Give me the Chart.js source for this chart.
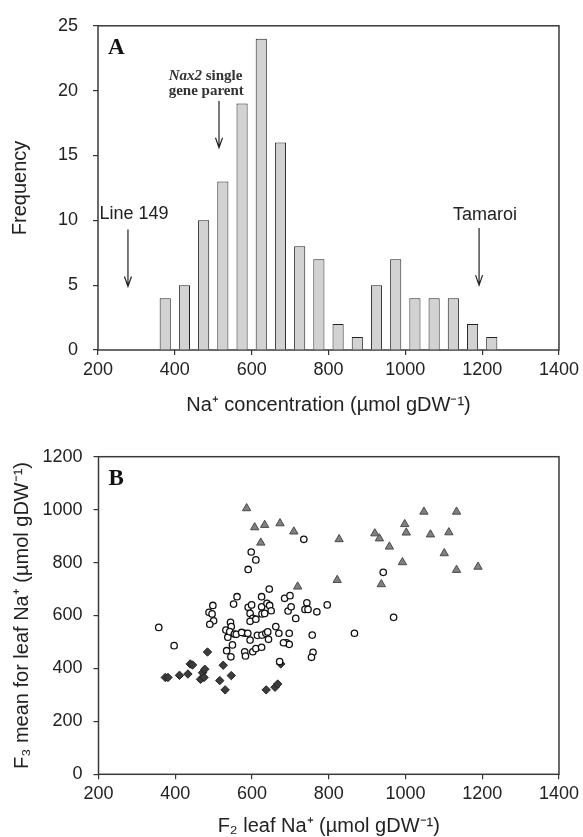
<!DOCTYPE html>
<html>
<head>
<meta charset="utf-8">
<script src="https://cdn.jsdelivr.net/npm/chart.js@4.4.1/dist/chart.umd.min.js"></script>
<style>
html, body { margin: 0; padding: 0; background: #fff; overflow: hidden; }
#wrapA { position: absolute; left: 0; top: 0; width: 583px; height: 420px; }
#wrapB { position: absolute; left: 0; top: 410px; width: 583px; height: 430px; }
</style>
</head>
<body>
<div id="wrapA"><canvas id="histChart" width="583" height="420"></canvas></div>
<div id="wrapB"><canvas id="scatterChart" width="583" height="430"></canvas></div>
<script>
// Panel A - histogram of leaf Na+ (bin centres, 50 wide)
const binCentres = [375, 425, 475, 525, 575, 625, 675, 725, 775, 825, 875, 925, 975, 1025, 1075, 1125, 1175, 1225];
const binCounts  = [4, 5, 10, 13, 19, 24, 16, 8, 7, 2, 1, 5, 7, 4, 4, 4, 2, 1];
const freqTicks  = [0, 5, 10, 15, 20, 25];
const naTicks    = [200, 400, 600, 800, 1000, 1200, 1400];

// Panel B - F2 leaf Na+ vs F3 mean
const lowX  = [374, 381, 411, 433, 439, 445, 471, 466, 477, 475, 484, 516, 525, 546, 530, 637, 660, 667, 675];
const lowY  = [366, 366, 374, 379, 417, 413, 384, 359, 397, 366, 462, 354, 412, 373, 319, 319, 329, 341, 417];
const midX  = [357, 397, 498, 488, 496, 500, 490, 552, 561, 532, 544, 546, 537, 542, 554, 549, 534, 545, 559, 581,
               590, 598, 610, 590, 599, 595, 602, 595, 573, 589, 595, 581, 583, 602, 610, 610, 625, 625, 645, 626,
               633, 639, 646, 650, 614, 626, 636, 625, 641, 643, 662, 670, 672, 685, 699, 694, 702, 714, 697, 690,
               697, 682, 735, 743, 738, 746, 769, 757, 759, 755, 796, 867, 942, 969];
const midY  = [555, 486, 638, 612, 606, 580, 567, 643, 671, 545, 574, 558, 518, 539, 530, 489, 467, 444, 529, 533,
               774, 840, 810, 631, 640, 608, 589, 578, 536, 533, 507, 463, 447, 463, 475, 586, 671, 633, 700, 606,
               608, 646, 638, 618, 525, 526, 533, 480, 538, 510, 558, 533, 426, 665, 675, 617, 633, 589, 533, 497,
               491, 497, 888, 648, 623, 623, 614, 526, 461, 442, 640, 533, 763, 593];
const highX = [586, 607, 633, 673, 623, 709, 719, 822, 827, 920, 932, 937, 958, 992, 998, 1002, 1048, 1065, 1101, 1113, 1133, 1133, 1189];
const highY = [1005, 933, 942, 948, 875, 917, 709, 734, 888, 910, 891, 718, 860, 801, 945, 913, 992, 906, 835, 914, 992, 772, 784];
const f3Ticks = [0, 200, 400, 600, 800, 1000, 1200];

// Annotations for panel A (data units: x = Na+, y = frequency)
const arrowsA = [
    { label: 'Line 149', x: 278, textY: 10.5, from: 9.3, to: 4.9 },
    { label: 'Tamaroi', x: 1192, textY: 10.4, from: 9.4, to: 5.0 },
    { label: null, x: 515, textY: 0, from: 19.2, to: 15.6 }
];

Chart.defaults.font.family = '"Liberation Sans", Arial, sans-serif';
Chart.defaults.color = '#222';
Chart.defaults.animation = false;

function toPoints(xs, ys) {
    return xs.map((x, i) => ({ x: x, y: ys[i] }));
}

// Cadre autour de la zone de tracé
const framePlugin = {
    id: 'frame',
    beforeDatasetsDraw(chart) {
        const { ctx, chartArea: a } = chart;
        ctx.save();
        ctx.strokeStyle = '#3a3a3a';
        ctx.lineWidth = 1.5;
        ctx.strokeRect(a.left, a.top, a.right - a.left, a.bottom - a.top);
        ctx.restore();
    }
};

function panelLetter(chart, letter) {
    const { ctx, chartArea: a } = chart;
    ctx.save();
    ctx.fillStyle = '#111';
    ctx.font = 'bold 23px "Liberation Serif", "Times New Roman", serif';
    ctx.textBaseline = 'alphabetic';
    ctx.fillText(letter, a.left + 10, a.top + 28);
    ctx.restore();
}

function drawArrow(ctx, x, y1, y2) {
    ctx.beginPath();
    ctx.moveTo(x, y1);
    ctx.lineTo(x, y2);
    ctx.moveTo(x - 3.5, y2 - 10);
    ctx.lineTo(x, y2);
    ctx.lineTo(x + 3.5, y2 - 10);
    ctx.stroke();
}

const notesA = {
    id: 'notesA',
    afterDraw(chart) {
        const ctx = chart.ctx;
        const xs = chart.scales.x, ys = chart.scales.y;
        panelLetter(chart, 'A');
        ctx.save();
        ctx.strokeStyle = '#222';
        ctx.lineWidth = 1.2;
        ctx.fillStyle = '#222';
        ctx.font = '18px "Liberation Sans", Arial, sans-serif';
        ctx.textAlign = 'center';
        ctx.textBaseline = 'middle';
        arrowsA.forEach(a => {
            const px = xs.getPixelForValue(a.x);
            if (a.label) ctx.fillText(a.label, px + 6, ys.getPixelForValue(a.textY));
            drawArrow(ctx, px, ys.getPixelForValue(a.from), ys.getPixelForValue(a.to));
        });
        // Nax2 single / gene parent
        const left = xs.getPixelForValue(384);
        const y1 = ys.getPixelForValue(21.1), y2 = ys.getPixelForValue(20.0);
        ctx.textAlign = 'left';
        ctx.fillStyle = '#333';
        ctx.font = 'italic bold 15px "Liberation Serif", serif';
        ctx.fillText('Nax2', left, y1);
        const w = ctx.measureText('Nax2').width;
        ctx.font = 'bold 15px "Liberation Serif", serif';
        ctx.fillText(' single', left + w, y1);
        ctx.fillText('gene parent', left, y2);
        ctx.restore();
    }
};

const notesB = {
    id: 'notesB',
    afterDraw(chart) { panelLetter(chart, 'B'); }
};

function axisOpts(values, title, titlePad, tickPad, fitSize, isY) {
    return {
        type: 'linear',
        min: values[0], max: values[values.length - 1],
        offset: false,
        afterFit(scale) { if (isY) scale.width = fitSize; else scale.height = fitSize; },
        afterBuildTicks(scale) { scale.ticks = values.map(v => ({ value: v })); },
        ticks: { padding: tickPad, font: { size: 18 }, color: '#222', callback: v => String(v) },
        grid: { offset: false, drawOnChartArea: false, drawTicks: true, tickLength: 5, color: '#333', lineWidth: 1.2 },
        border: { display: false },
        title: { display: true, text: title, font: { size: 20 }, color: '#222', padding: titlePad }
    };
}

// Panel A
new Chart(document.getElementById('histChart'), {
    type: 'bar',
    data: {
        datasets: [{
            data: toPoints(binCentres, binCounts),
            backgroundColor: '#d2d2d2',
            borderColor: '#222',
            borderWidth: 1,
            barPercentage: 0.58,
            categoryPercentage: 1
        }]
    },
    options: {
        responsive: false,
        layout: { padding: { top: 17, right: 22, left: 0, bottom: 0 } },
        plugins: { legend: { display: false }, tooltip: { enabled: false } },
        scales: {
            x: axisOpts(naTicks, 'Na⁺ concentration (µmol gDW⁻¹)', { top: 0, bottom: 3 }, 4, 70, false),
            y: axisOpts(freqTicks, 'Frequency', { top: 8, bottom: 0 }, 15, 98, true)
        }
    },
    plugins: [framePlugin, notesA]
});

// Panel B
new Chart(document.getElementById('scatterChart'), {
    type: 'scatter',
    data: {
        datasets: [
            {
                data: toPoints(highX, highY),
                pointStyle: 'triangle', pointRadius: 4.8,
                backgroundColor: '#808080', borderColor: '#4a4a4a', borderWidth: 1
            },
            {
                data: toPoints(midX, midY),
                pointStyle: 'circle', pointRadius: 3.2,
                backgroundColor: '#fff', borderColor: '#111', borderWidth: 1.3
            },
            {
                data: toPoints(lowX, lowY),
                pointStyle: 'rectRot', pointRadius: 4.2,
                backgroundColor: '#3c3c3c', borderColor: '#222', borderWidth: 1
            }
        ]
    },
    options: {
        responsive: false,
        layout: { padding: { top: 46.7, right: 24, left: 0, bottom: 0 } },
        plugins: { legend: { display: false }, tooltip: { enabled: false } },
        scales: {
            x: axisOpts(naTicks, 'F₂ leaf Na⁺ (µmol gDW⁻¹)', { top: 0, bottom: 2 }, 3.5, 65.7, false),
            y: axisOpts(f3Ticks, 'F₃ mean for leaf Na⁺ (µmol gDW⁻¹)', { top: 10, bottom: 0 }, 11, 98.5, true)
        }
    },
    plugins: [framePlugin, notesB]
});
</script>
</body>
</html>
